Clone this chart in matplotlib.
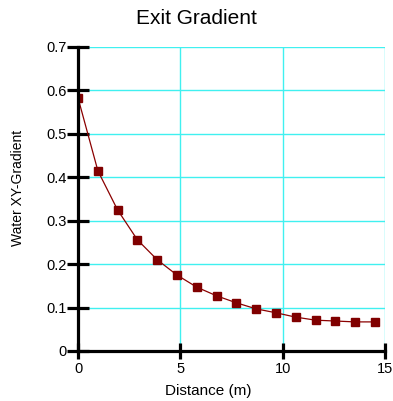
import matplotlib.pyplot as plt
from matplotlib.ticker import FuncFormatter

plt.rcParams['font.family'] = ['Liberation Sans', 'DejaVu Sans']

# Exit gradient along the downstream distance
distance = [0.0, 0.97, 1.93, 2.9, 3.87, 4.83, 5.8, 6.77, 7.73, 8.7,
            9.67, 10.63, 11.6, 12.57, 13.53, 14.5]
gradient = [0.583, 0.415, 0.325, 0.256, 0.210, 0.175, 0.147, 0.127, 0.111, 0.097,
            0.088, 0.078, 0.071, 0.069, 0.067, 0.067]
x_ticks = [0, 5, 10, 15]
y_ticks = [0, 0.1, 0.2, 0.3, 0.4, 0.5, 0.6, 0.7]

fig = plt.figure(figsize=(3.93, 4.01), dpi=100)
ax = fig.add_axes([0.1985, 0.1247, 0.7815, 0.7581])

ax.plot(distance, gradient, color='#8b0000', lw=0.9, marker='s',
        markersize=5.5, markerfacecolor='#800000', markeredgecolor='#800000', zorder=3)

ax.set_xlim(0, 15)
ax.set_ylim(0, 0.7)
ax.set_xticks(x_ticks)
ax.set_yticks(y_ticks)
ax.yaxis.set_major_formatter(FuncFormatter(lambda v, p: '0' if v == 0 else f'{v:.1f}'))

ax.grid(True, color='#40f0f0', lw=1.0)
ax.set_axisbelow(True)
for s in ['top', 'right']:
    ax.spines[s].set_visible(False)
for s in ['left', 'bottom']:
    ax.spines[s].set_linewidth(2.3)
    ax.spines[s].set_zorder(4)

ax.tick_params(axis='y', direction='inout', length=16, width=2.3, labelsize=10.5, pad=0)
ax.tick_params(axis='x', direction='inout', length=11.5, width=2.3, labelsize=10.5, pad=2)

ax.set_xlabel('Distance (m)', fontsize=11)
ax.xaxis.set_label_coords(0.423, -0.11)
ax.set_ylabel('Water XY-Gradient', fontsize=10)
ax.yaxis.set_label_coords(-0.172, 0.535)
fig.text(0.5, 0.955, 'Exit Gradient', ha='center', va='center', fontsize=15)

fig.savefig('out.png', dpi=100)
